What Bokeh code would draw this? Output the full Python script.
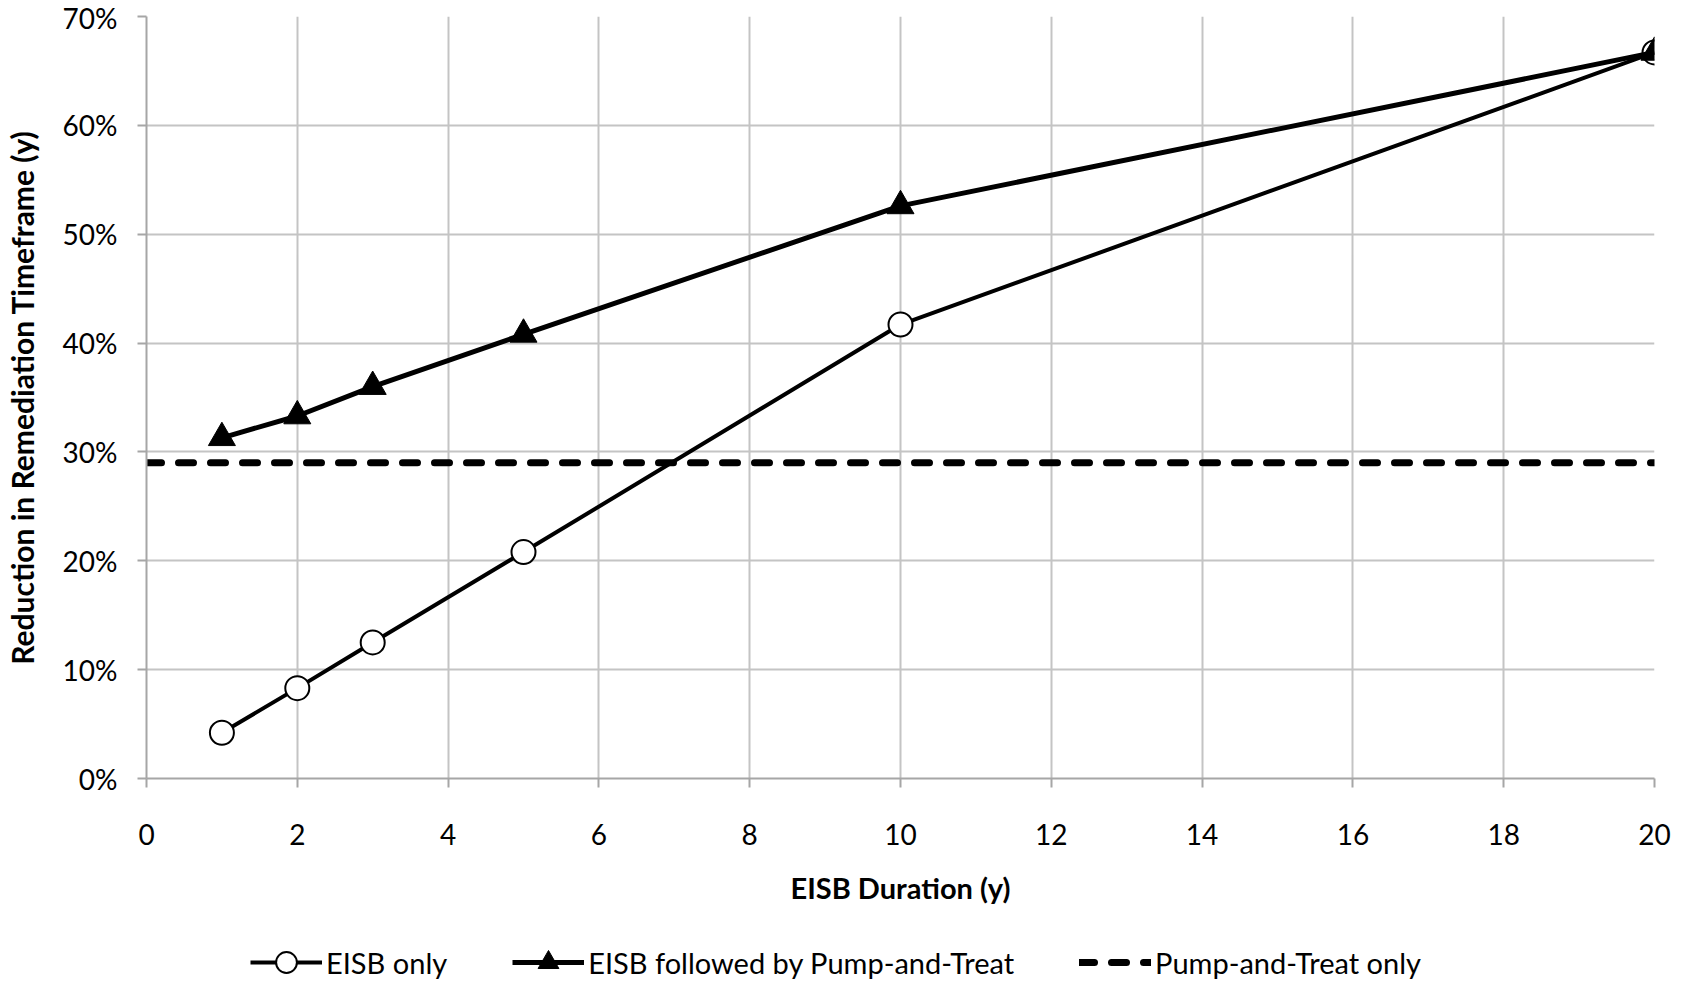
from bokeh.plotting import figure
from bokeh.layouts import column
from bokeh.models import Range1d, NumeralTickFormatter, FixedTicker, Legend, LegendItem
from bokeh.embed import file_html
from bokeh.resources import INLINE

duration = [1, 2, 3, 5, 10, 20]
eisb_only = [0.042, 0.083, 0.125, 0.208, 0.417, 0.667]
eisb_pt = [0.313, 0.333, 0.360, 0.408, 0.526, 0.667]
pt_only_value = 0.29
pt_x = [0, 20]
x_ticks = [0, 2, 4, 6, 8, 10, 12, 14, 16, 18, 20]
y_ticks = [0, 0.1, 0.2, 0.3, 0.4, 0.5, 0.6, 0.7]
series_labels = ["EISB only", "EISB followed by Pump-and-Treat", "Pump-and-Treat only"]

FONT = "Lato"

p = figure(width=1680, height=921, output_backend="svg", toolbar_location=None,
           x_range=Range1d(0, 20), y_range=Range1d(0, 0.7),
           min_border_left=146, min_border_right=26, min_border_top=16, min_border_bottom=143)
p.outline_line_color = None
p.background_fill_color = "white"

for ax in (p.xaxis[0], p.yaxis[0]):
    ax.axis_line_color = "#a6a6a6"
    ax.axis_line_width = 2
    ax.major_tick_line_color = "#a6a6a6"
    ax.major_tick_line_width = 2
    ax.major_tick_out = 9
    ax.major_tick_in = 0
    ax.minor_tick_line_color = None
    ax.major_label_text_font = FONT
    ax.major_label_text_font_size = "28px"
    ax.major_label_text_color = "black"
    ax.axis_label_text_font = FONT
    ax.axis_label_text_font_style = "bold"
    ax.axis_label_text_color = "black"

p.xaxis.axis_label_text_font_size = "29px"
p.yaxis.axis_label_text_font_size = "30px"
p.xaxis.ticker = FixedTicker(ticks=x_ticks)
p.yaxis.ticker = FixedTicker(ticks=y_ticks)
p.yaxis.formatter = NumeralTickFormatter(format="0%")
p.xaxis.axis_label = "EISB Duration (y)"
p.yaxis.axis_label = "Reduction in Remediation Timeframe (y)"
p.xaxis.major_label_standoff = 36
p.xaxis.axis_label_standoff = 22
p.yaxis.major_label_standoff = 20
p.yaxis.axis_label_standoff = 20

p.xgrid.grid_line_color = "#c4c4c4"
p.ygrid.grid_line_color = "#c4c4c4"
p.xgrid.grid_line_width = 2
p.ygrid.grid_line_width = 2

PT_STYLE = dict(line_color="black", line_width=7, line_dash="15 17", line_cap="round")
L1_STYLE = dict(line_color="black", line_width=4)
S1_STYLE = dict(marker="circle", size=24, fill_color="white", line_color="black", line_width=2)
L2_STYLE = dict(line_color="black", line_width=5)
S2_STYLE = dict(marker="triangle", size=27, fill_color="black", line_color="black")

# Pump-and-Treat only
p.line(pt_x, [pt_only_value, pt_only_value], **PT_STYLE)
# EISB only
p.line(duration, eisb_only, **L1_STYLE)
p.scatter(duration, eisb_only, **S1_STYLE)
# EISB followed by Pump-and-Treat
p.line(duration, eisb_pt, **L2_STYLE)
p.scatter(duration, eisb_pt, **S2_STYLE)

# Legend strip below the chart (its ranges keep the proxy series out of view)
lf = figure(width=1680, height=62, output_backend="svg", toolbar_location=None,
            x_axis_type=None, y_axis_type=None, x_range=Range1d(100, 101), y_range=Range1d(100, 101),
            min_border=0)
lf.outline_line_color = None
lf.xgrid.visible = False
lf.ygrid.visible = False
ll1 = lf.line(duration, eisb_only, **L1_STYLE)
ls1 = lf.scatter(duration, eisb_only, **S1_STYLE)
ll2 = lf.line(duration, eisb_pt, **L2_STYLE)
ls2 = lf.scatter(duration, eisb_pt, **S2_STYLE)
lpt = lf.line(pt_x, [pt_only_value, pt_only_value], **PT_STYLE)

legend = Legend(items=[
    LegendItem(label=series_labels[0], renderers=[ll1, ls1]),
    LegendItem(label=series_labels[1], renderers=[ll2, ls2]),
    LegendItem(label=series_labels[2], renderers=[lpt]),
], orientation="horizontal", location=(104, -5))
legend.padding = 0
legend.margin = 0
legend.spacing = 65
legend.glyph_width = 72
legend.glyph_height = 52
legend.label_height = 30
legend.label_standoff = 4
legend.label_text_font = FONT
legend.label_text_font_size = "29px"
legend.label_text_color = "black"
legend.border_line_color = None
legend.background_fill_alpha = 0
lf.add_layout(legend, "center")

layout = column(p, lf, spacing=0)
open("out.html", "w").write(file_html(layout, INLINE))
